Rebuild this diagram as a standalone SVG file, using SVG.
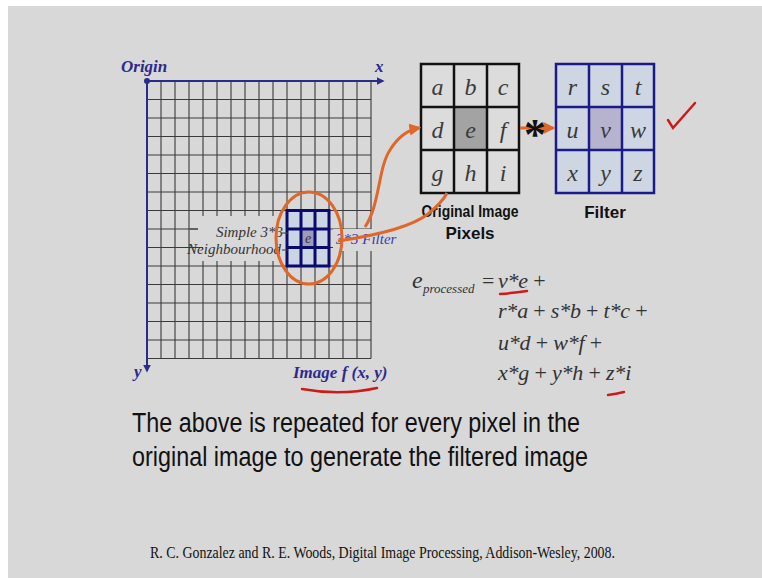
<svg xmlns="http://www.w3.org/2000/svg" width="762" height="578" viewBox="0 0 762 578">
<defs>
<style>
.grid{stroke:#3a3a3a;stroke-width:1.1;fill:none}
.axis{stroke:#2b2b8c;stroke-width:2;fill:none}
.blue{fill:#2b2b8c;font-family:"Liberation Serif",serif;font-style:italic;font-weight:bold;font-size:17px}
.lbl{fill:#333;font-family:"Liberation Serif",serif;font-style:italic;font-size:15px}
.cell{font-family:"Liberation Serif",serif;font-style:italic;font-size:24px;fill:#3a3a3a;text-anchor:middle}
.eq{font-family:"Liberation Serif",serif;font-size:22px;fill:#333;letter-spacing:-0.2px}
.it{font-style:italic}
.cap{font-family:"Liberation Sans",sans-serif;font-weight:bold;font-size:17px;fill:#111;text-anchor:middle}
.orange{stroke:#e0672a;stroke-width:3;fill:none}
.red{stroke:#cc1a1a;stroke-width:2.5;fill:none;stroke-linecap:round}
</style>
<marker id="oa" viewBox="0 0 10 10" refX="8" refY="5" markerWidth="4" markerHeight="4" orient="auto"><path d="M0,0 L10,5 L0,10 z" fill="#e0672a"/></marker>
<marker id="ba" viewBox="0 0 10 10" refX="8" refY="5" markerWidth="4" markerHeight="4" orient="auto"><path d="M0,0 L10,5 L0,10 z" fill="#2b2b8c"/></marker>
</defs>
<rect width="762" height="578" fill="#ffffff"/>
<rect x="8" y="6" width="754" height="572" fill="#d8d8d8"/>

<g id="image-grid">
<path class="grid" d="M161,81V358.5M175,81V358.5M189,81V358.5M203,81V358.5M217,81V358.5M231,81V358.5M245,81V358.5M259,81V358.5M273,81V358.5M287,81V358.5M301,81V358.5M315,81V358.5M329,81V358.5M343,81V358.5M357,81V358.5M371,81V358.5M147,99.5H371M147,118H371M147,136.5H371M147,155H371M147,173.5H371M147,192H371M147,210.5H371M147,229H371M147,247.5H371M147,266H371M147,284.5H371M147,303H371M147,321.5H371M147,340H371M147,358.5H371"/>
<rect x="198" y="216" width="88" height="45" fill="#d8d8d8"/>
<rect x="333" y="229" width="60" height="22" fill="#d8d8d8"/>
<path class="grid" d="M190,229H198M190,247.5H203"/>
<path class="axis" d="M147,81H383" marker-end="url(#ba)"/>
<path class="axis" d="M147,81V371" marker-end="url(#ba)"/>
<circle cx="147" cy="81" r="3" fill="#2b2b8c"/>
<text class="blue" x="121" y="72">Origin</text>
<text class="blue" x="375" y="72">x</text>
<text class="blue" x="134" y="377">y</text>
<text class="blue" x="293" y="378">Image f (x, y)</text>
</g>

<g id="neighbourhood">
<rect x="287" y="210.5" width="42" height="55.5" fill="#ccd5e4"/>
<rect x="301" y="229" width="14" height="18.5" fill="#9d9abb"/>
<path d="M287,210.5H329V266H287Z M301,210.5V266 M315,210.5V266 M287,229H329 M287,247.5H329" stroke="#0a0a6e" stroke-width="3" fill="none"/>
<text x="308" y="243" font-family="Liberation Serif,serif" font-style="italic" font-size="14" fill="#333" text-anchor="middle">e</text>
<text class="lbl" x="283" y="237" text-anchor="end">Simple 3*3</text>
<text class="lbl" x="281" y="254" text-anchor="end">Neighbourhood</text>
<path class="grid" d="M282,233H288M282,250H288"/>
<text x="336" y="244" font-family="Liberation Serif,serif" font-style="italic" font-size="15" fill="#3b3bb0">3*3 Filter</text>
<ellipse cx="309" cy="238" rx="33" ry="46" class="orange" stroke-width="3.5"/>
</g>

<g id="original-pixels">
<rect x="421" y="64" width="98" height="129" fill="#dcdcdc"/>
<rect x="454" y="107" width="33" height="43" fill="#a3a3a3"/>
<path d="M421,64H519V193H421Z M454,64V193 M487,64V193 M421,107H519 M421,150H519" stroke="#111" stroke-width="2.5" fill="none"/>
<text class="cell" x="437.5" y="95">a</text><text class="cell" x="470.5" y="95">b</text><text class="cell" x="503" y="95">c</text>
<text class="cell" x="437.5" y="138">d</text><text class="cell" x="470.5" y="138">e</text><text class="cell" x="503" y="138">f</text>
<text class="cell" x="437.5" y="181">g</text><text class="cell" x="470.5" y="181">h</text><text class="cell" x="503" y="181">i</text>
<text class="cap" x="470" y="217" textLength="97" lengthAdjust="spacingAndGlyphs">Original Image</text>
<text class="cap" x="470" y="239">Pixels</text>
</g>

<g id="filter">
<rect x="556" y="64" width="98" height="129" fill="#cfd6e3"/>
<rect x="589" y="107" width="33" height="43" fill="#b5b3cd"/>
<path d="M556,64H654V193H556Z M589,64V193 M622,64V193 M556,107H654 M556,150H654" stroke="#1a1a8a" stroke-width="2.5" fill="none"/>
<text class="cell" x="572.5" y="95">r</text><text class="cell" x="605.5" y="95">s</text><text class="cell" x="638" y="95">t</text>
<text class="cell" x="572.5" y="138">u</text><text class="cell" x="605.5" y="138">v</text><text class="cell" x="638" y="138">w</text>
<text class="cell" x="572.5" y="181">x</text><text class="cell" x="605.5" y="181">y</text><text class="cell" x="638" y="181">z</text>
<text class="cap" x="605" y="218">Filter</text>
</g>

<g id="connectors">
<path class="orange" d="M365,227 C380,205 378,168 390,150 C398,137 407,130 419,128" marker-end="url(#oa)"/>
<path class="orange" d="M338,241 C372,236 410,228 428,214 C439,205 444,199 447,193"/>
<path class="orange" d="M520,128 L553,128" marker-end="url(#oa)"/>
<text x="535" y="149" font-family="Liberation Serif,serif" font-weight="bold" font-size="44" fill="#111" text-anchor="middle">*</text>
</g>

<g id="equation">
<text class="eq it" x="412" y="288" style="font-size:24px">e</text>
<text class="eq it" x="423" y="293" style="font-size:13px;letter-spacing:0">processed</text>
<text class="eq" x="482" y="288">=</text>
<text class="eq" x="498" y="288"><tspan class="it">v*e</tspan> +</text>
<text class="eq" x="498" y="318"><tspan class="it">r*a</tspan> + <tspan class="it">s*b</tspan> + <tspan class="it">t*c</tspan> +</text>
<text class="eq" x="498" y="350"><tspan class="it">u*d</tspan> + <tspan class="it">w*f</tspan> +</text>
<text class="eq" x="498" y="380"><tspan class="it">x*g</tspan> + <tspan class="it">y*h</tspan> + <tspan class="it">z*i</tspan></text>
</g>

<g id="annotations">
<path class="red" d="M668,120 L673,128 L695,103"/>
<path class="red" d="M500,294 Q514,293 527,291"/>
<path class="red" d="M608,395 Q616,394 624,392"/>
<path class="red" d="M302,389 Q340,396 377,388"/>
</g>

<g id="caption">
<text x="132" y="432" font-family="Liberation Sans,sans-serif" font-size="27" fill="#111" textLength="448" lengthAdjust="spacingAndGlyphs">The above is repeated for every pixel in the</text>
<text x="132" y="466" font-family="Liberation Sans,sans-serif" font-size="27" fill="#111" textLength="456" lengthAdjust="spacingAndGlyphs">original image to generate the filtered image</text>
<text x="150" y="558" font-family="Liberation Serif,serif" font-size="16" fill="#111" textLength="465" lengthAdjust="spacingAndGlyphs">R. C. Gonzalez and R. E. Woods, Digital Image Processing, Addison-Wesley, 2008.</text>
</g>
</svg>
